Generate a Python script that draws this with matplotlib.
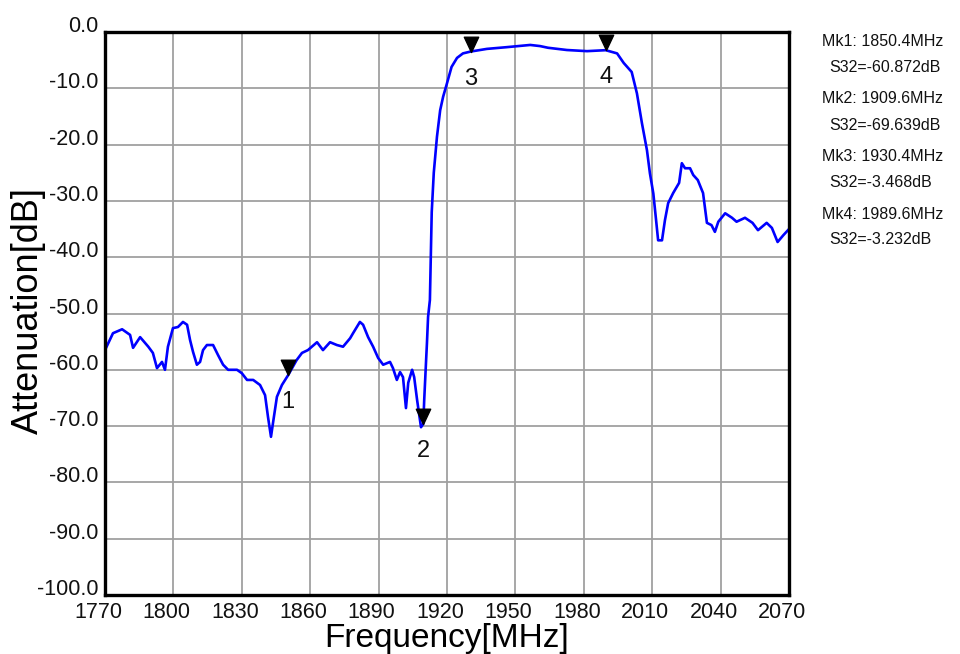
import numpy as np
import matplotlib
matplotlib.use("Agg")
import matplotlib.pyplot as plt
from matplotlib.transforms import ScaledTranslation
from matplotlib.path import Path

# ---- data ----
freq_mhz = [1770, 1773.5, 1777.5, 1781, 1782.3, 1785.4, 1789, 1791, 1792.8, 1795,
            1796.3, 1797.6, 1799.8, 1802, 1804.2, 1806, 1807.3, 1808.6, 1810.3, 1811.7,
            1813, 1814.7, 1817.4, 1819.6, 1821.8, 1824, 1827.9, 1830, 1832.3, 1835,
            1838, 1840.2, 1841.5, 1842.8, 1843.7, 1845.4, 1847.6, 1850.4, 1854, 1856.4,
            1859, 1863, 1865.6, 1868.7, 1871.7, 1874.4, 1877.5, 1878.8, 1881.8, 1883.2,
            1885.4, 1887.6, 1889.8, 1892, 1895, 1896.3, 1898, 1899.4, 1900.7, 1902,
            1903, 1904.7, 1905.6, 1906.9, 1908.6, 1909.6, 1910, 1910.8, 1911.2, 1911.7,
            1912.5, 1913.3, 1914.2, 1915.6, 1917, 1918.3, 1920, 1922, 1924.4, 1927,
            1930.4, 1937.5, 1946, 1956.5, 1960.8, 1964.3, 1972.6, 1981.4, 1989.6, 1994.6,
            1997.5, 2001, 2003.3, 2005.5, 2007.7, 2009, 2010.5, 2011.7, 2012.6, 2014.3,
            2015.6, 2017, 2019.2, 2021.8, 2023, 2024.4, 2026.6, 2028, 2030, 2032.3,
            2034, 2036, 2037.5, 2039, 2042, 2045, 2047, 2050.7, 2054, 2056.4,
            2060.2, 2062.5, 2065, 2067.5, 2070]
atten_db = [-56.5, -53.5, -52.8, -53.8, -56.1, -54.2, -55.9, -57.0, -59.7, -58.6,
            -60.0, -55.9, -52.6, -52.4, -51.5, -52.0, -54.7, -56.8, -59.1, -58.6,
            -56.5, -55.6, -55.6, -57.4, -59.1, -60.0, -60.0, -60.6, -61.8, -61.8,
            -62.7, -64.5, -68.4, -71.9, -69.4, -64.8, -62.7, -60.9, -58.3, -57.0,
            -56.5, -55.1, -56.5, -55.1, -55.6, -55.9, -54.4, -53.5, -51.5, -52.0,
            -54.2, -55.9, -57.9, -59.1, -58.6, -59.7, -61.8, -60.4, -61.3, -66.8,
            -62.3, -60.0, -61.3, -65.4, -70.2, -69.6, -65.4, -58.6, -55.3, -50.6,
            -47.6, -32.0, -25.0, -18.6, -13.9, -11.5, -9.1, -6.2, -4.6, -3.8,
            -3.47, -3.0, -2.7, -2.3, -2.5, -2.8, -3.2, -3.4, -3.23, -3.8,
            -5.5, -7.1, -10.9, -16.2, -21.0, -25.1, -28.7, -33.4, -37.0, -37.0,
            -33.4, -30.4, -28.6, -26.8, -23.3, -24.2, -24.2, -25.4, -26.3, -28.6,
            -33.9, -34.3, -35.5, -33.7, -32.2, -33.0, -33.7, -33.0, -33.9, -35.2,
            -33.9, -34.8, -37.3, -36.1, -35.0]

marker_freq = [1850.4, 1909.6, 1930.4, 1989.6]
marker_db = [-60.872, -69.639, -3.468, -3.232]
marker_names = ["1", "2", "3", "4"]

x_ticks = [1770, 1800, 1830, 1860, 1890, 1920, 1950, 1980, 2010, 2040, 2070]
y_ticks = [-100, -90, -80, -70, -60, -50, -40, -30, -20, -10, 0]

# ---- figure ----
W, H = 960, 654
fig = plt.figure(figsize=(W / 100, H / 100), dpi=100)
fig.patch.set_facecolor("white")
L, R, T, B = 105, 789, 32, 595
ax = fig.add_axes([L / W, 1 - B / H, (R - L) / W, (B - T) / H])

ax.set_xlim(1770, 2070)
ax.set_ylim(-100, 0)
ax.set_xticks(x_ticks)
ax.set_yticks(y_ticks)
ax.set_xticklabels([str(v) for v in x_ticks])
ax.set_yticklabels(["%.1f" % v for v in y_ticks])

ax.grid(True, color="#a0a0a0", linewidth=1.3, zorder=0)
ax.set_axisbelow(True)
for sp in ax.spines.values():
    sp.set_linewidth(2.4)
    sp.set_color("black")
    sp.set_zorder(5)

tick_font = dict(family=["Liberation Sans", "DejaVu Sans"], size=15.5)
ax.tick_params(axis="both", length=0, labelcolor="#111111")
ax.tick_params(axis="x", pad=5)
ax.tick_params(axis="y", pad=5)
for lbl in ax.get_xticklabels():
    lbl.set_fontfamily(tick_font["family"])
    lbl.set_fontsize(tick_font["size"])
    lbl.set_transform(lbl.get_transform() + ScaledTranslation(-7 / 100, 0, fig.dpi_scale_trans))
for lbl in ax.get_yticklabels():
    lbl.set_fontfamily(tick_font["family"])
    lbl.set_fontsize(tick_font["size"])
    lbl.set_verticalalignment("baseline")

ax.plot(freq_mhz, atten_db, color="#0000ff", linewidth=1.9, zorder=3)

# downward triangle with tip at the data point
tri = Path([(0, 0), (-0.47, 1.0), (0.47, 1.0), (0, 0)],
           [Path.MOVETO, Path.LINETO, Path.LINETO, Path.CLOSEPOLY])
ax.plot(marker_freq, marker_db, linestyle="none", marker=tri, markersize=22,
        color="black", zorder=4, clip_on=False)
for f, d, n in zip(marker_freq, marker_db, marker_names):
    ax.annotate(n, (f, d), xytext=(0, -19.5), textcoords="offset points",
                ha="center", va="center", fontsize=17,
                family=["Liberation Sans", "DejaVu Sans"], color="#111111", zorder=4)

ax.set_xlabel("Frequency[MHz]", fontsize=24, family=["Liberation Sans", "DejaVu Sans"],
              va="baseline")
ax.xaxis.set_label_coords(0.5, (B - 647) / (B - T))
ax.set_ylabel("Attenuation[dB]", fontsize=26, family=["Liberation Sans", "DejaVu Sans"],
              va="center", ha="center")
ax.yaxis.set_label_coords((28 - L) / (R - L), (B - 311) / (B - T))

# marker readout on the right
readout_lines = []
for i, (f, d) in enumerate(zip(marker_freq, marker_db)):
    readout_lines.append(("Mk%d: %.1fMHz" % (i + 1, f), 822, 41 + i * 57.7))
    readout_lines.append(("S32=%.3fdB" % d, 829, 68 + i * 57.3))
for txt, px, py in readout_lines:
    fig.text(px / W, 1 - py / H, txt, fontsize=11.5, ha="left", va="center",
             family=["Liberation Sans", "DejaVu Sans"], color="#111111")

fig.savefig("out.png", dpi=100)
